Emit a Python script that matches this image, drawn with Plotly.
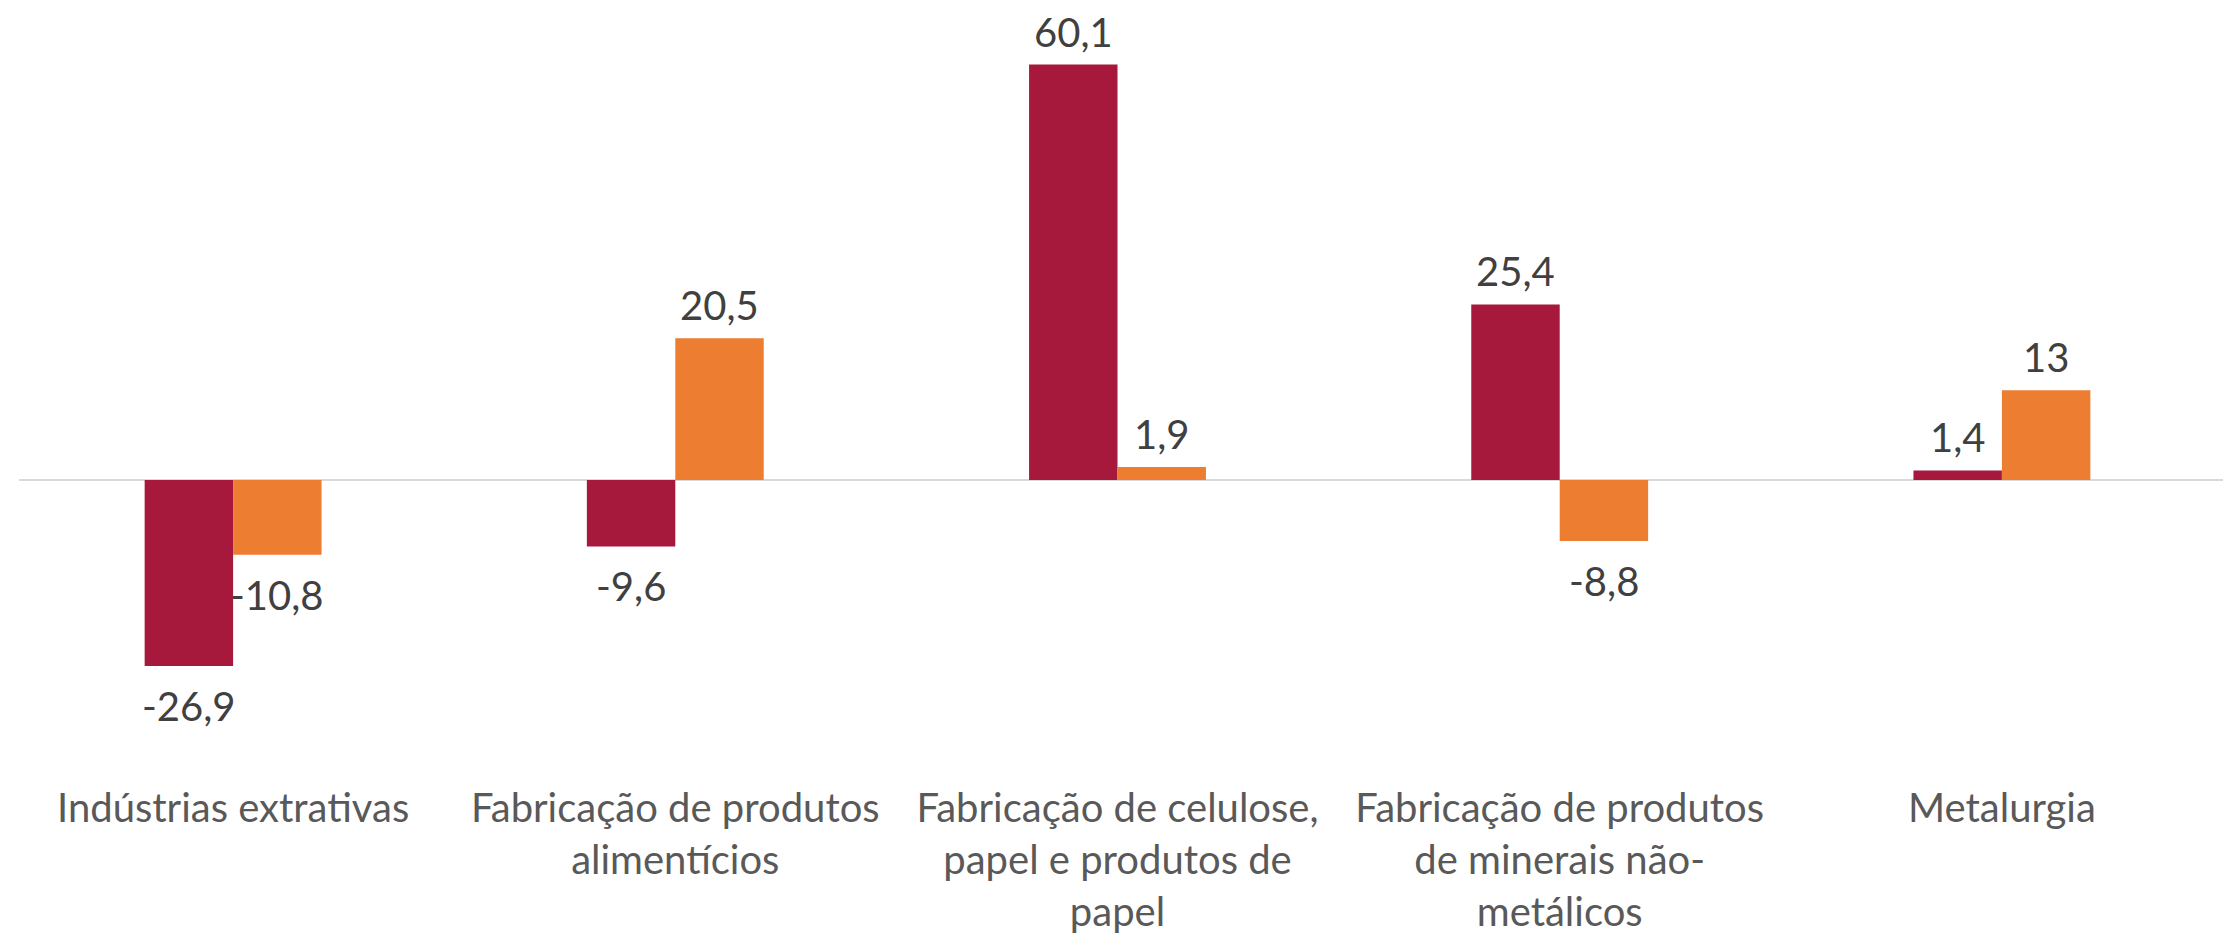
import plotly.graph_objects as go

categories = [
    "Indústrias extrativas",
    "Fabricação de produtos<br>alimentícios",
    "Fabricação de celulose,<br>papel e produtos de<br>papel",
    "Fabricação de produtos<br>de minerais não-<br>metálicos",
    "Metalurgia",
]
series_a = [-26.9, -9.6, 60.1, 25.4, 1.4]
series_b = [-10.8, 20.5, 1.9, -8.8, 13]
labels_a = ["-26,9", "-9,6", "60,1", "25,4", "1,4"]
labels_b = ["-10,8", "20,5", "1,9", "-8,8", "13"]

RED = "#A6193C"
ORANGE = "#ED7D31"
FONT = "Lato"
BAR_HALF = 44.2  # half bar width in px (style)

fig = go.Figure()
fig.add_trace(go.Bar(x=categories, y=series_a, marker=dict(color=RED, line=dict(width=0))))
fig.add_trace(go.Bar(x=categories, y=series_b, marker=dict(color=ORANGE, line=dict(width=0))))

for vals, labs, sign in ((series_a, labels_a, -1), (series_b, labels_b, 1)):
    for cat, v, lab in zip(categories, vals, labs):
        pos = v >= 0
        fig.add_annotation(
            x=cat, y=v, text=lab, showarrow=False,
            xshift=sign * BAR_HALF, borderpad=0,
            yanchor="bottom" if pos else "top",
            yshift=8 if pos else -15,
            font=dict(family=FONT, size=40, color="#404040"),
        )

fig.update_layout(
    width=2231, height=937,
    margin=dict(l=4, r=16, t=2, b=164),
    barmode="group", bargap=0.6, bargroupgap=0,
    plot_bgcolor="white", paper_bgcolor="white",
    showlegend=False,
)
fig.add_shape(type="line", xref="paper", yref="y", x0=0.0032, x1=1.0032, y0=0, y1=0,
              line=dict(color="#D9D9D9", width=2), layer="below")
fig.update_xaxes(
    showline=False, showgrid=False, ticks="",
    tickfont=dict(family=FONT, size=40, color="#595959"),
)
fig.update_yaxes(
    range=[-43.53, 68.0], showgrid=False, showticklabels=False,
    zeroline=False,
)

fig.write_html("out.html")
